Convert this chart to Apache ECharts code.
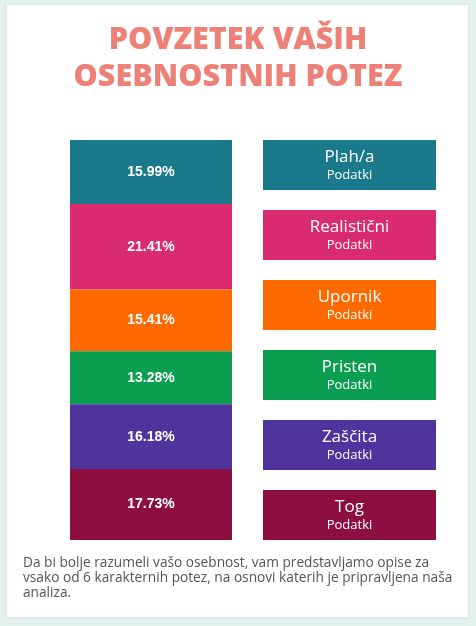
<!DOCTYPE html>
<html><head><meta charset="utf-8">
<script src="https://cdn.jsdelivr.net/npm/echarts@6/dist/echarts.min.js"></script>
<style>html,body{margin:0;padding:0;background:#e4f2ef;}#c{width:476px;height:626px;}</style>
</head><body><div id="c"></div>
<script>
const categories = ['Plah/a', 'Realistični', 'Upornik', 'Pristen', 'Zaščita', 'Tog'];
const percentages = [15.99, 21.41, 15.41, 13.28, 16.18, 17.73];
const colors = ['#1a7a8c', '#d92b6e', '#ff6a00', '#0b9e50', '#4e359e', '#8c0f40'];
const subLabel = 'Podatki';
const titleText = 'POVZETEK VAŠIH\nOSEBNOSTNIH POTEZ';
const footerText = 'Da bi bolje razumeli vašo osebnost, vam predstavljamo opise za\nvsako od 6 karakternih potez, na osnovi katerih je pripravljena naša\nanaliza.';

const chart = echarts.init(document.getElementById('c'), null, {renderer: 'canvas'});
const stackSeries = categories.map((name, i) => ({
  name: name, type: 'bar', stack: 'total', xAxisIndex: 0, yAxisIndex: 0,
  barWidth: '100%', data: [percentages[i]],
  itemStyle: {color: colors[i]},
  label: {show: true, position: 'inside', formatter: '{c}%', color: '#fff',
    fontFamily: 'Liberation Sans, Arial, sans-serif', fontWeight: 'bold', fontSize: 14}
}));
const legendSeries = {
  type: 'bar', xAxisIndex: 1, yAxisIndex: 1, barWidth: 50,
  data: categories.map((n, i) => ({value: 1, name: n, itemStyle: {color: colors[i]}})),
  label: {show: true, position: 'inside',
    formatter: p => '{a|' + p.name + '}\n{b|' + subLabel + '}',
    rich: {
      a: {color: '#fff', fontSize: 17, fontFamily: 'Open Sans, sans-serif', lineHeight: 20},
      b: {color: '#fff', fontSize: 13, fontFamily: 'Open Sans, sans-serif', lineHeight: 16}
    }}
};
chart.setOption({
  backgroundColor: '#e4f2ef',
  animation: false,
  graphic: [
    {type: 'rect', z: -10, shape: {x: 7, y: 5, width: 461, height: 612},
     style: {fill: '#fff', shadowBlur: 3, shadowColor: 'rgba(0,0,0,0.08)'}},
    {type: 'text', x: 238, y: 22, z: 10,
     style: {text: titleText, fill: '#ee8177', align: 'center', verticalAlign: 'top',
       font: '800 30.5px "Open Sans", sans-serif', lineHeight: 37}},
    {type: 'text', x: 23, y: 556, z: 10,
     style: {text: footerText, fill: '#555', font: '13.7px "Open Sans", sans-serif', lineHeight: 15}}
  ],
  grid: [
    {left: 70, width: 162, top: 140, height: 400},
    {left: 263, width: 173, top: 130, height: 420}
  ],
  xAxis: [
    {type: 'category', gridIndex: 0, data: [''], show: false},
    {type: 'value', gridIndex: 1, min: 0, max: 1, show: false}
  ],
  yAxis: [
    {type: 'value', gridIndex: 0, min: 0, max: 100, inverse: true, show: false},
    {type: 'category', gridIndex: 1, data: categories, inverse: true, show: false}
  ],
  series: stackSeries.concat([legendSeries])
});
</script></body></html>
